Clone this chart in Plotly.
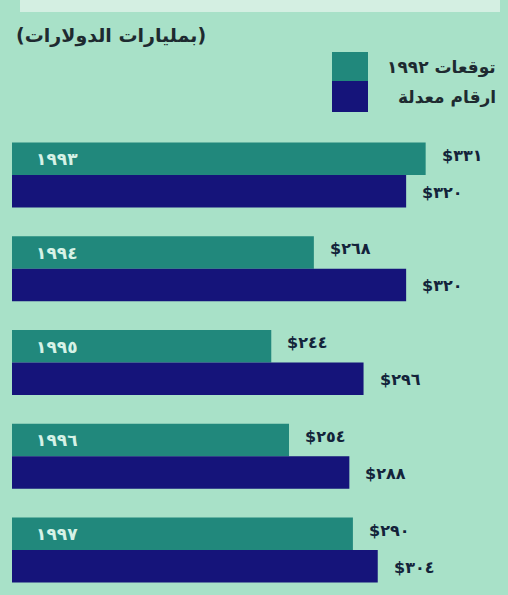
import plotly.graph_objects as go

# ---- data ----
years = ["١٩٩٣", "١٩٩٤", "١٩٩٥", "١٩٩٦", "١٩٩٧"]
forecast_1992 = [331, 268, 244, 254, 290]
revised = [320, 320, 296, 288, 304]
forecast_labels = ["$٣٣١", "$٢٦٨", "$٢٤٤", "$٢٥٤", "$٢٩٠"]
revised_labels = ["$٣٢٠", "$٣٢٠", "$٢٩٦", "$٢٨٨", "$٣٠٤"]
series_names = ["توقعات ١٩٩٢", "ارقام معدلة"]
unit_title = "(بمليارات الدولارات)"

W, H = 508, 595
BG = "#a8e1c8"
TEAL = "#21887c"
NAVY = "#15147a"
TXT = "#13233a"
FONT = "DejaVu Sans"

fig = go.Figure()
fig.add_trace(go.Bar(y=years, x=forecast_1992, orientation="h", name=series_names[0],
                     marker=dict(color=TEAL, line=dict(width=0)), showlegend=False,
                     hoverinfo="skip"))
fig.add_trace(go.Bar(y=years, x=revised, orientation="h", name=series_names[1],
                     marker=dict(color=NAVY, line=dict(width=0)), showlegend=False,
                     hoverinfo="skip"))

annotations = []
for yr, v, lab in zip(years, forecast_1992, forecast_labels):
    annotations.append(dict(x=v, y=yr, xref="x", yref="y", text="<b>" + lab + "</b>", showarrow=False,
                            xanchor="left", yanchor="middle", xshift=14, yshift=20,
                            font=dict(family=FONT, size=16, color=TXT)))
    annotations.append(dict(x=0, y=yr, xref="paper", yref="y", text="<b>" + yr + "</b>", showarrow=False,
                            xanchor="left", yanchor="middle", xshift=34, yshift=16,
                            font=dict(family=FONT, size=17, color="#d6f2e6")))
for yr, v, lab in zip(years, revised, revised_labels):
    annotations.append(dict(x=v, y=yr, xref="x", yref="y", text="<b>" + lab + "</b>", showarrow=False,
                            xanchor="left", yanchor="middle", xshift=14, yshift=-17,
                            font=dict(family=FONT, size=16, color=TXT)))

# title + legend text
annotations.append(dict(x=14 / W, y=1 - 35 / H, xref="paper", yref="paper", text="<b>" + unit_title + "</b>",
                        showarrow=False, xanchor="left", yanchor="middle",
                        font=dict(family=FONT, size=19, color="#1e2a30")))
annotations.append(dict(x=498 / W, y=1 - 67 / H, xref="paper", yref="paper", text="<b>" + series_names[0] + "</b>",
                        showarrow=False, xanchor="right", yanchor="middle",
                        font=dict(family=FONT, size=17, color="#1e2a30")))
annotations.append(dict(x=498 / W, y=1 - 97 / H, xref="paper", yref="paper", text="<b>" + series_names[1] + "</b>",
                        showarrow=False, xanchor="right", yanchor="middle",
                        font=dict(family=FONT, size=17, color="#1e2a30")))

shapes = [
    # pale strip at the top
    dict(type="rect", xref="paper", yref="paper", x0=20 / W, x1=500 / W, y0=1 - 12 / H, y1=1,
         fillcolor="#d4efe2", line=dict(width=0), layer="below"),
    # legend swatches
    dict(type="rect", xref="paper", yref="paper", x0=332 / W, x1=368 / W, y0=1 - 81 / H, y1=1 - 52 / H,
         fillcolor=TEAL, line=dict(width=0)),
    dict(type="rect", xref="paper", yref="paper", x0=332 / W, x1=368 / W, y0=1 - 112 / H, y1=1 - 81 / H,
         fillcolor=NAVY, line=dict(width=0)),
]

fig.update_layout(
    width=W, height=H,
    margin=dict(l=0, r=0, t=0, b=0),
    paper_bgcolor=BG, plot_bgcolor=BG,
    barmode="group", bargap=0.307, bargroupgap=0,
    xaxis=dict(domain=[12 / W, 1], range=[97.9, 377.4], visible=False, fixedrange=True),
    yaxis=dict(domain=[0, 475 / H], type="category", range=[4.48, -0.587], visible=False,
               fixedrange=True),
    annotations=annotations,
    shapes=shapes,
    font=dict(family=FONT),
)

fig.write_html("out.html", config=dict(displayModeBar=False),
               post_script="document.body.style.margin='0';document.body.style.overflow='hidden';")
